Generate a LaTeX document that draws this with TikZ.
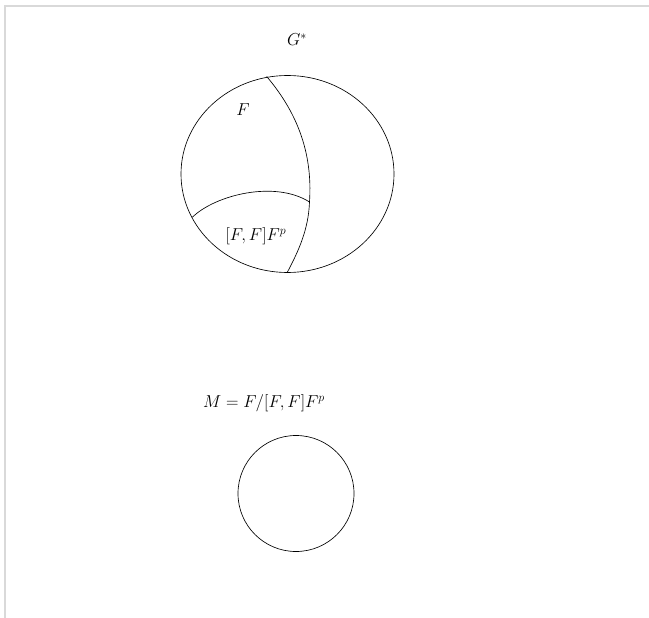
\documentclass[tikz,border=0pt]{standalone}
\begin{document}
\begin{tikzpicture}[x=1pt,y=-1pt,
  shape line/.style={line width=0.65pt,black},
  lbl/.style={inner sep=0pt,font=\fontsize{18}{22}\selectfont},
  frame line/.style={line width=1.2pt,color=black!15}]
\useasboundingbox (0,0) rectangle (649,618);
% frame
\draw[frame line] (5,618) -- (5,6) -- (649,6);
% big ellipse
\draw[shape line] (287.5,174) ellipse [x radius=106.5, y radius=98.5];
\coordinate (vtop) at (266.7,76.5);
\coordinate (vbot) at (287.3,272.3);
\coordinate (hl) at (192.3,217.3);
\coordinate (hr) at (309.5,202);
\draw[shape line] (vtop) .. controls (295,110) and (313,150) .. (hr)
  .. controls (308.5,230) and (298,252) .. (vbot);
\draw[shape line] (hl) .. controls (215,195) and (275,180) .. (hr);
% labels
\node[lbl] (g) at (297,40) {$G^*$};
\node[lbl] (f) at (243,110) {$F$};
\node[lbl] (ff) at (256,236) {$[F,F]F^p$};
\node[lbl] (m) at (264,403) {$M=F/[F,F]F^p$};
% small circle
\draw[shape line] (296,493.5) circle [radius=58];
\end{tikzpicture}
\end{document}
